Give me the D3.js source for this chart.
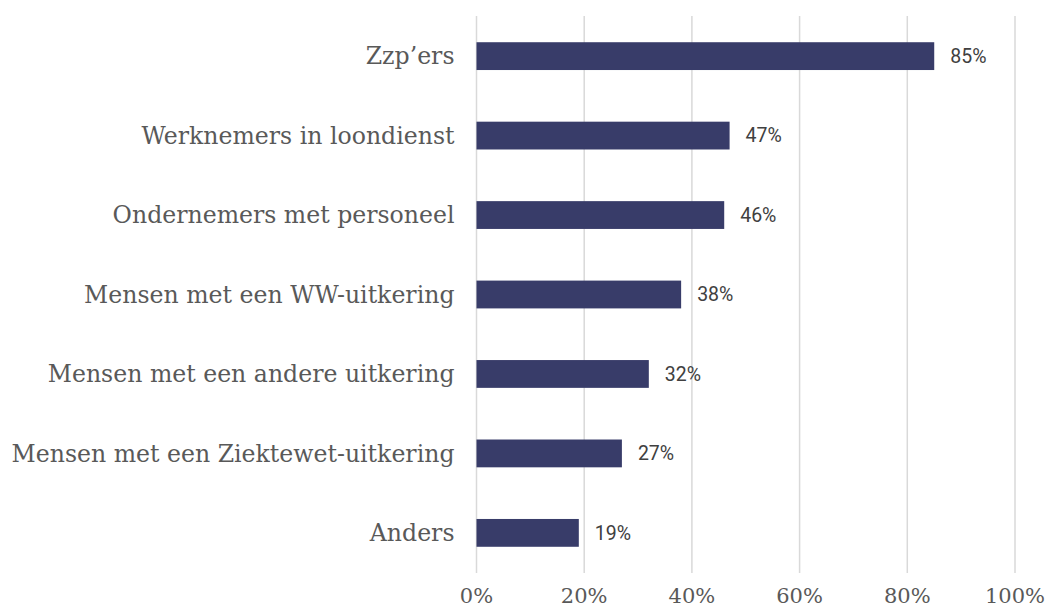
<!DOCTYPE html>
<html>
<head>
<meta charset="utf-8">
<script src="https://cdn.jsdelivr.net/npm/d3@7"></script>
<style>
  body { margin: 0; background: #fff; }
  .cat { font-family: "DejaVu Serif", serif; font-size: 23.6px; fill: #595959; }
  .tick-label { font-family: "DejaVu Serif", serif; font-size: 21px; fill: #595959; }
  .val { font-family: Roboto, sans-serif; font-size: 19.5px; fill: #404040; }
</style>
</head>
<body>
<div id="chart"></div>
<script>
var categories = [
  "Zzp\u2019ers",
  "Werknemers in loondienst",
  "Ondernemers met personeel",
  "Mensen met een WW-uitkering",
  "Mensen met een andere uitkering",
  "Mensen met een Ziektewet-uitkering",
  "Anders"
];
var values = [85, 47, 46, 38, 32, 27, 19];
var tickValues = [0, 20, 40, 60, 80, 100];

var svgWidth = 1048;
var svgHeight = 609;

var margin = { top: 16, right: 33, bottom: 36, left: 476.5 };
var width = svgWidth - margin.left - margin.right;
var height = svgHeight - margin.top - margin.bottom;

var svg = d3.select("#chart")
  .append("svg")
  .attr("width", svgWidth)
  .attr("height", svgHeight);

var chartGroup = svg.append("g")
  .attr("transform", `translate(${margin.left}, ${margin.top})`);

var x = d3.scaleLinear().domain([0, 100]).range([0, width]);
var y = d3.scaleBand().domain(categories).range([0, height])
  .paddingInner(0.65).paddingOuter(0.33);

// gridlines
chartGroup.selectAll("line.grid")
  .data(tickValues)
  .enter()
  .append("line")
  .attr("class", "grid")
  .attr("x1", d => x(d))
  .attr("x2", d => x(d))
  .attr("y1", 0)
  .attr("y2", height)
  .attr("stroke", "#d9d9d9")
  .attr("stroke-width", 1.5);

// bottom tick labels
chartGroup.selectAll("text.tick-label")
  .data(tickValues)
  .enter()
  .append("text")
  .attr("class", "tick-label")
  .attr("x", d => x(d))
  .attr("y", height + 30)
  .attr("text-anchor", "middle")
  .text(d => d + "%");

// bars
var data = categories.map((c, i) => ({ cat: c, val: values[i] }));

chartGroup.selectAll("rect.bar")
  .data(data)
  .enter()
  .append("rect")
  .attr("class", "bar")
  .attr("x", 0)
  .attr("y", d => y(d.cat))
  .attr("width", d => x(d.val))
  .attr("height", y.bandwidth())
  .attr("fill", "#383c69");

// value labels
chartGroup.selectAll("text.val")
  .data(data)
  .enter()
  .append("text")
  .attr("class", "val")
  .attr("x", d => x(d.val) + 16)
  .attr("y", d => y(d.cat) + y.bandwidth() / 2)
  .attr("dy", "0.35em")
  .text(d => d.val + "%");

// category labels
chartGroup.selectAll("text.cat")
  .data(data)
  .enter()
  .append("text")
  .attr("class", "cat")
  .attr("x", -22)
  .attr("y", d => y(d.cat) + y.bandwidth() / 2)
  .attr("dy", "0.35em")
  .attr("text-anchor", "end")
  .text(d => d.cat);
</script>
</body>
</html>
